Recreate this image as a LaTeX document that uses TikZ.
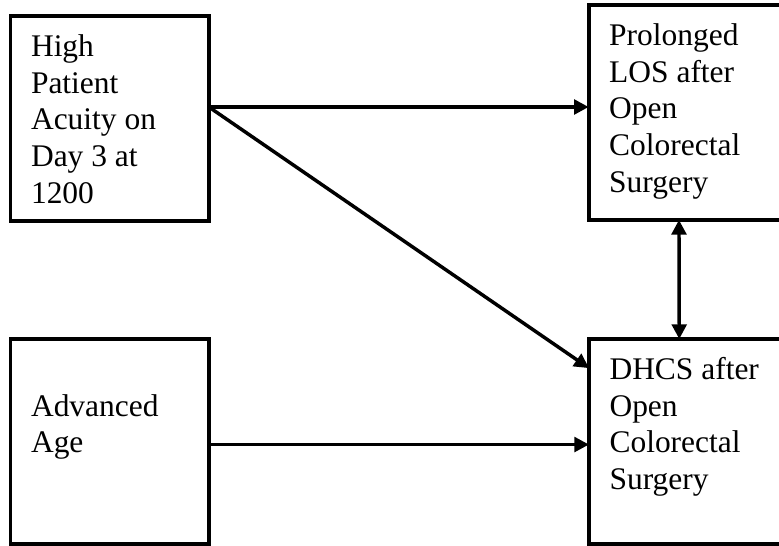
\documentclass[tikz,border=0pt]{standalone}
\usepackage{fontspec}
\setmainfont{Liberation Serif}
\usetikzlibrary{arrows.meta, calc}

\newcommand{\boxtext}[2]{\parbox[t][#1][t]{118pt}{\raggedright\strut #2}}

\begin{document}
\begin{tikzpicture}[x=0.75pt, y=-0.75pt, >={Triangle[length=11pt, width=11pt]}]
    \tikzset{
        factor/.style={draw, line width=2.9pt, anchor=north west, outer sep=0pt,
            inner xsep=15.4pt, inner ysep=11.1pt,
            font=\fontsize{23.6pt}{27.5pt}\selectfont},
        link/.style={line width=2.6pt}
    }
    \clip (0,0) rectangle (779,546);

    % Yếu tố
    \node[factor] (acuity) at (10.5,16) {\boxtext{131.5pt}{High\\Patient\\Acuity on\\Day 3 at\\1200}};
    \node[factor] (age) at (10.5,339) {\boxtext{131.5pt}{\strut\\Advanced\\Age}};

    % Kết cục
    \node[factor] (los) at (588.7,5) {\boxtext{139pt}{Prolonged\\LOS after\\Open\\Colorectal\\Surgery}};
    \node[factor] (dhcs) at (589,339) {\boxtext{131.5pt}{DHCS after\\Open\\Colorectal\\Surgery}};

    % Mũi tên
    \coordinate (start) at ([yshift=8.6pt]acuity.east);
    \draw[link, ->] (start) -- (start -| los.west);
    \draw[link, ->] (start) -- ([yshift=55pt]dhcs.west);
    \draw[link, ->] ([yshift=-2.3pt]age.east) -- ([yshift=-2.3pt]dhcs.west);
    \draw[link, <->] ([xshift=-6.7pt]los.south) -- ([xshift=-6.7pt]dhcs.north);
\end{tikzpicture}
\end{document}
